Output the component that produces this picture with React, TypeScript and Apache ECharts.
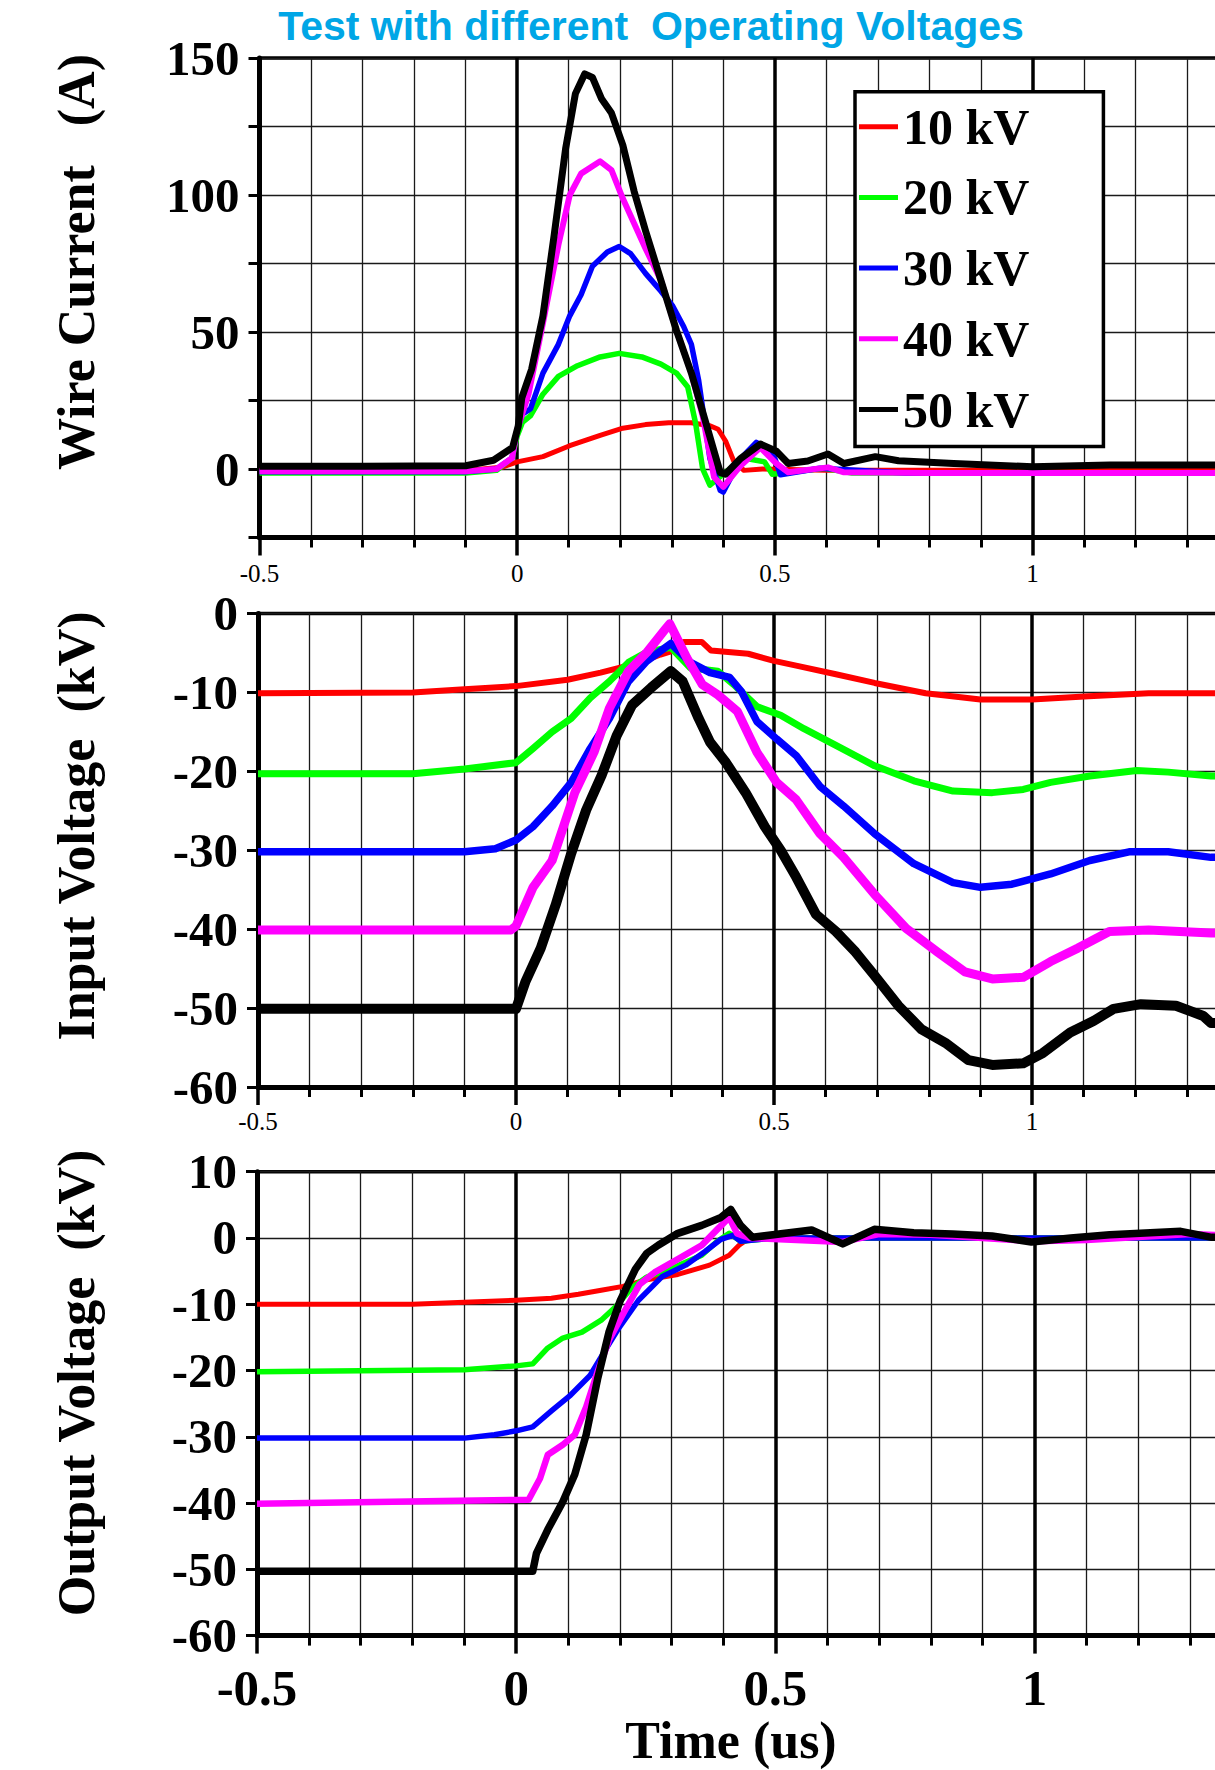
import React, { useEffect, useRef } from "react";
import * as echarts from "echarts";

// ---------- DATA (time in us) ----------
const SERIES_NAMES = ["10 kV", "20 kV", "30 kV", "40 kV", "50 kV"];
const SERIES_COLORS = ["#ff0000", "#00ff00", "#0000ff", "#ff00ff", "#000000"];
const X_TICK_LABELS = ["-0.5", "0", "0.5", "1"];

// Wire Current (A)
const current10kV = [
  [-0.5, -0.5], [-0.1, -0.5], [-0.03, 0.6], [0, 2.6], [0.05, 4.5], [0.102, 8.5], [0.161, 12.3],
  [0.205, 14.9], [0.249, 16.2], [0.294, 16.9], [0.338, 16.9], [0.374, 15.8], [0.39, 14.5],
  [0.405, 10], [0.42, 3], [0.44, -0.5], [0.476, 0], [0.6, -0.5], [1.5, -0.5],
];
const current20kV = [
  [-0.5, -1.5], [-0.1, -1.5], [-0.04, -0.5], [-0.01, 4], [0, 12], [0.01, 17], [0.026, 19.5],
  [0.05, 27.3], [0.08, 33.8], [0.117, 37.7], [0.161, 40.9], [0.198, 42.2], [0.242, 40.9],
  [0.279, 38.3], [0.309, 35], [0.331, 29.9], [0.346, 16.9], [0.36, 0], [0.374, -5.9],
  [0.412, 0], [0.442, 3.9], [0.48, 2.6], [0.495, -1.9], [0.595, 0.3], [0.65, -1.5], [1.5, -1.5],
];
const current30kV = [
  [-0.5, -1], [-0.1, -1], [-0.04, 0], [-0.01, 4], [0, 14.3], [0.01, 20], [0.026, 22],
  [0.05, 35], [0.08, 45.5], [0.102, 55.9], [0.124, 63.6], [0.146, 74], [0.175, 79.2],
  [0.198, 81.2], [0.22, 78.6], [0.249, 71.4], [0.279, 64.9], [0.301, 59.7], [0.323, 52],
  [0.338, 45.5], [0.352, 32.5], [0.374, 3.9], [0.394, -7.8], [0.4, -8.4], [0.434, 3.9],
  [0.464, 9.7], [0.495, 6.5], [0.511, -2.1], [0.587, 0.3], [0.755, -1.5], [1.5, -1.5],
];
const current40kV = [
  [-0.5, -0.8], [-0.1, -0.8], [-0.04, 0], [-0.01, 4], [0, 14.3], [0.022, 27.3], [0.05, 53.2],
  [0.08, 81.8], [0.102, 100], [0.124, 107.8], [0.161, 112.3], [0.183, 109.1], [0.205, 98.7],
  [0.227, 89.6], [0.249, 80.5], [0.279, 68.8], [0.309, 50.6], [0.338, 35], [0.36, 19.3],
  [0.382, -3], [0.4, -6.5], [0.434, 1.3], [0.472, 7.8], [0.503, 2], [0.526, -1.2],
  [0.603, 0.6], [0.634, -1.2], [0.8, -1.5], [1.5, -1.5],
];
const current50kV = [
  [-0.5, 1], [-0.3, 1], [-0.1, 1.2], [-0.046, 3.2], [-0.009, 7.8], [0.002, 15.6], [0.009, 26],
  [0.028, 36.4], [0.05, 55.9], [0.072, 85.7], [0.094, 116.9], [0.113, 137], [0.131, 144.2],
  [0.146, 142.9], [0.164, 135], [0.183, 129.9], [0.205, 118.2], [0.227, 101.3], [0.249, 87],
  [0.279, 68.8], [0.309, 50.6], [0.338, 35], [0.368, 15.6], [0.394, -1.3], [0.404, -1.9],
  [0.434, 3.9], [0.472, 9.1], [0.503, 6.5], [0.526, 2], [0.564, 2.9], [0.603, 5.5],
  [0.634, 2], [0.695, 4.5], [0.74, 3], [0.847, 2], [1.0, 0.8], [1.15, 1.5], [1.35, 1.5], [1.5, 1.5],
];

// Input Voltage (kV)
const input10kV = [
  [-0.5, -10.1], [-0.2, -10], [-0.1, -9.6], [0, -9.2], [0.1, -8.4], [0.164, -7.5], [0.2, -6.9],
  [0.24, -6.2], [0.28, -5.2], [0.3, -4.8], [0.325, -3.6], [0.36, -3.6], [0.378, -4.7],
  [0.45, -5.1], [0.5, -6.0], [0.543, -6.6], [0.62, -7.7], [0.695, -8.8], [0.794, -10.1],
  [0.9, -10.9], [1.0, -10.9], [1.11, -10.5], [1.226, -10.1], [1.347, -10.1], [1.5, -10.1],
];
const input20kV = [
  [-0.5, -20.3], [-0.2, -20.3], [-0.1, -19.7], [0, -18.9], [0.033, -17.1], [0.07, -15],
  [0.107, -13.3], [0.144, -10.7], [0.181, -8.6], [0.218, -6.2], [0.254, -4.9], [0.3, -4.3],
  [0.338, -6.9], [0.391, -7.3], [0.422, -9], [0.467, -11.8], [0.513, -12.9], [0.558, -14.6],
  [0.62, -16.7], [0.695, -19.3], [0.771, -21.2], [0.847, -22.5], [0.923, -22.7], [0.983, -22.3],
  [1.036, -21.4], [1.112, -20.6], [1.203, -19.9], [1.264, -20.1], [1.347, -20.6], [1.5, -20.6],
];
const input30kV = [
  [-0.5, -30.2], [-0.1, -30.2], [-0.04, -29.8], [0, -28.7], [0.033, -27], [0.07, -24.4],
  [0.107, -21.4], [0.144, -17.1], [0.181, -13.3], [0.218, -8.6], [0.254, -6], [0.3, -3.8],
  [0.338, -6.2], [0.376, -7.5], [0.414, -8.1], [0.437, -9.9], [0.467, -13.7], [0.505, -15.9],
  [0.543, -18], [0.589, -21.9], [0.635, -24.4], [0.695, -27.9], [0.771, -31.7], [0.847, -34.1],
  [0.9, -34.7], [0.961, -34.3], [1.036, -33], [1.112, -31.3], [1.188, -30.2], [1.264, -30.2],
  [1.347, -30.9], [1.5, -30.9],
];
const input40kV = [
  [-0.5, -40.1], [-0.01, -40.1], [0, -39.6], [0.033, -34.7], [0.07, -31.3], [0.092, -27],
  [0.114, -22.7], [0.151, -17.6], [0.181, -12], [0.218, -7.3], [0.254, -4.9], [0.288, -2.1],
  [0.298, -1.3], [0.331, -5.6], [0.361, -9], [0.391, -10.3], [0.429, -12.4], [0.467, -17.6],
  [0.505, -21.4], [0.543, -23.6], [0.589, -27.9], [0.635, -30.9], [0.695, -35.6], [0.756, -39.9],
  [0.817, -42.9], [0.87, -45.4], [0.923, -46.3], [0.983, -46.1], [1.036, -44.1], [1.089, -42.4],
  [1.15, -40.3], [1.226, -40.1], [1.347, -40.5], [1.5, -40.5],
];
const input50kV = [
  [-0.5, -50.1], [0, -50.1], [0.018, -46.7], [0.048, -42.4], [0.077, -36.9], [0.107, -30.4],
  [0.136, -24.9], [0.166, -20.5], [0.195, -15.5], [0.225, -11.6], [0.262, -9.4], [0.3, -7.3],
  [0.323, -8.6], [0.354, -13.3], [0.376, -16.3], [0.407, -18.9], [0.445, -22.7], [0.482, -27],
  [0.513, -30], [0.543, -33.4], [0.581, -38.1], [0.62, -40.3], [0.658, -42.9], [0.695, -45.9],
  [0.741, -49.7], [0.786, -52.7], [0.832, -54.4], [0.877, -56.6], [0.923, -57.2], [0.983, -57],
  [1.021, -55.7], [1.074, -53.1], [1.12, -51.6], [1.158, -50.1], [1.211, -49.5], [1.279, -49.7],
  [1.332, -51], [1.347, -51.9], [1.5, -51.9],
];

// Output Voltage (kV)
const output10kV = [
  [-0.5, -10], [-0.2, -10], [-0.1, -9.7], [0, -9.4], [0.068, -9.1], [0.12, -8.5], [0.164, -7.9],
  [0.206, -7.3], [0.252, -6.3], [0.312, -5.5], [0.373, -4.1], [0.411, -2.6], [0.43, -1.1],
  [0.441, -0.5], [0.46, 0], [1.5, 0],
];
const output20kV = [
  [-0.5, -20.2], [-0.1, -19.9], [0, -19.3], [0.032, -19], [0.061, -16.6], [0.09, -15.1],
  [0.127, -14.2], [0.164, -12.4], [0.193, -10.3], [0.223, -7.5], [0.252, -5.9], [0.297, -4.7],
  [0.358, -2.6], [0.388, -0.5], [0.411, 0.7], [0.433, -0.5], [0.5, 0], [1.5, 0],
];
const output30kV = [
  [-0.5, -30.2], [-0.1, -30.2], [-0.042, -29.7], [0, -29.1], [0.032, -28.5], [0.068, -26.1],
  [0.105, -23.7], [0.142, -20.8], [0.179, -16], [0.198, -13.6], [0.236, -9.4], [0.282, -5.8],
  [0.327, -4.1], [0.365, -2], [0.395, -0.2], [0.418, 0.4], [0.433, -0.5], [0.5, 0], [1.5, 0],
];
const output40kV = [
  [-0.5, -40.1], [0.024, -39.5], [0.046, -36.3], [0.061, -32.7], [0.09, -31.2], [0.113, -29.7],
  [0.135, -25.5], [0.157, -20.2], [0.179, -15.4], [0.208, -11.2], [0.238, -7], [0.267, -5.2],
  [0.312, -3.2], [0.358, -1.1], [0.388, 1.3], [0.411, 3.1], [0.426, 0.7], [0.45, 0], [0.63, -0.6],
  [0.7, 0.6], [0.8, 0.5], [1.0, -0.5], [1.1, -0.3], [1.3, 0.6], [1.5, 0],
];
const output50kV = [
  [-0.5, -50.3], [0.032, -50.3], [0.039, -47.6], [0.061, -44], [0.09, -39.8], [0.113, -35.7],
  [0.135, -29.7], [0.157, -21.3], [0.179, -14.2], [0.201, -9.4], [0.23, -4.7], [0.252, -2.3],
  [0.274, -1.1], [0.312, 0.7], [0.358, 1.9], [0.395, 3.1], [0.414, 4.3], [0.433, 1.9],
  [0.456, 0.1], [0.57, 1.2], [0.63, -0.9], [0.691, 1.3], [0.767, 0.8], [0.842, 0.6], [0.918, 0.3],
  [0.994, -0.6], [1.07, 0], [1.145, 0.5], [1.282, 1], [1.342, 0.1], [1.5, 0.1],
];

const TITLE = "Test with different\u00A0 Operating Voltages";
const Y_NAMES = ["Wire Current\u00A0\u00A0 (A)", "Input Voltage\u00A0 (kV)", "Output Voltage\u00A0 (kV)"];
const X_NAME = "Time (us)";

// ---------- LAYOUT ----------
const SERIF = '"Liberation Serif", "Times New Roman", serif';
const SANS = '"Liberation Sans", Arial, sans-serif';

const PANELS = [
  {
    grid: { left: 259.5, top: 58, width: 1030.7, height: 479.5 },
    y: { min: -25, max: 150, interval: 25, labelStep: 50 },
    data: [current10kV, current20kV, current30kV, current40kV, current50kV],
    widths: [5, 5.5, 5.5, 6, 7],
    xLabel: { fontSize: 25, fontWeight: "normal", margin: 23 },
    nameY: 262,
  },
  {
    grid: { left: 258, top: 613.5, width: 1032, height: 473.5 },
    y: { min: -60, max: 0, interval: 10, labelStep: 10 },
    data: [input10kV, input20kV, input30kV, input40kV, input50kV],
    widths: [6, 7, 7.5, 9, 10],
    xLabel: { fontSize: 25, fontWeight: "normal", margin: 22 },
    nameY: 826,
  },
  {
    grid: { left: 257, top: 1171.7, width: 1036.7, height: 463.9 },
    y: { min: -60, max: 10, interval: 10, labelStep: 10 },
    data: [output10kV, output20kV, output30kV, output40kV, output50kV],
    widths: [5, 5.5, 5.5, 6.5, 7.5],
    xLabel: { fontSize: 51, fontWeight: "bold", margin: 27 },
    nameY: 1383,
  },
];

function xLabelFormatter(v: number) {
  const r = Math.round(v * 10) / 10;
  const s = String(r);
  return X_TICK_LABELS.includes(s) ? s : "";
}

function buildOption() {
  const grids: any[] = [];
  const xAxes: any[] = [];
  const yAxes: any[] = [];
  const series: any[] = [];

  PANELS.forEach((p, i) => {
    grids.push({
      ...p.grid,
      show: true,
      borderColor: "#000",
      borderWidth: 3.5,
      backgroundColor: "transparent",
      containLabel: false,
    });
    xAxes.push({
      gridIndex: i,
      type: "value",
      min: -0.5,
      max: 1.5,
      interval: 0.5,
      position: "bottom",
      axisLine: { show: true, onZero: false, lineStyle: { color: "#000", width: 5 } },
      axisTick: { show: true, inside: false, length: 18, lineStyle: { color: "#000", width: 3.5 } },
      minorTick: { show: true, splitNumber: 5, length: 10, lineStyle: { color: "#000", width: 3 } },
      splitLine: { show: true, lineStyle: { color: "#000", width: 3.5 } },
      minorSplitLine: { show: true, lineStyle: { color: "#1a1a1a", width: 1.3 } },
      axisLabel: {
        show: true,
        formatter: xLabelFormatter,
        fontFamily: SERIF,
        fontSize: p.xLabel.fontSize,
        fontWeight: p.xLabel.fontWeight,
        color: "#000",
        margin: p.xLabel.margin,
      },
    });
    yAxes.push({
      gridIndex: i,
      type: "value",
      min: p.y.min,
      max: p.y.max,
      interval: p.y.interval,
      axisLine: { show: true, onZero: false, lineStyle: { color: "#000", width: 5 } },
      axisTick: { show: true, inside: false, length: 11, lineStyle: { color: "#000", width: 3 } },
      splitLine: { show: true, lineStyle: { color: "#1a1a1a", width: 1.3 } },
      axisLabel: {
        show: true,
        formatter: (v: number) => {
          const r = Math.round(v);
          return r % p.y.labelStep === 0 && (p.y.labelStep === 10 || r >= 0) ? String(r) : "";
        },
        fontFamily: SERIF,
        fontSize: 49,
        fontWeight: "bold",
        color: "#000",
        margin: 20,
      },
    });
    p.data.forEach((d, k) => {
      series.push({
        name: SERIES_NAMES[k],
        type: "line",
        xAxisIndex: i,
        yAxisIndex: i,
        data: d,
        showSymbol: false,
        symbol: "none",
        color: SERIES_COLORS[k],
        itemStyle: { color: SERIES_COLORS[k] },
        lineStyle: { color: SERIES_COLORS[k], width: p.widths[k], join: "round" },
        silent: true,
        z: 3,
      });
    });
  });

  const graphics: any[] = [
    {
      type: "text",
      x: 651,
      y: 26,
      style: {
        text: TITLE,
        fill: "#00a6e6",
        fontFamily: SANS,
        fontWeight: "bold",
        fontSize: 41,
        align: "center",
        verticalAlign: "middle",
      },
    },
    {
      type: "text",
      x: 731,
      y: 1740,
      style: {
        text: X_NAME,
        fill: "#000",
        fontFamily: SERIF,
        fontWeight: "bold",
        fontSize: 52,
        align: "center",
        verticalAlign: "middle",
      },
    },
  ];
  PANELS.forEach((p, i) => {
    graphics.push({
      type: "text",
      x: 76,
      y: p.nameY,
      rotation: Math.PI / 2,
      style: {
        text: Y_NAMES[i],
        fill: "#000",
        fontFamily: SERIF,
        fontWeight: "bold",
        fontSize: 52,
        align: "center",
        verticalAlign: "middle",
      },
    });
  });

  return {
    animation: false,
    backgroundColor: "#fff",
    grid: grids,
    xAxis: xAxes,
    yAxis: yAxes,
    series,
    legend: {
      data: SERIES_NAMES,
      orient: "vertical",
      left: 855,
      top: 91.7,
      icon: "rect",
      itemWidth: 39,
      itemHeight: 5,
      itemGap: 14.7,
      padding: [7, 74, 9, 4],
      backgroundColor: "#fff",
      borderColor: "#000",
      borderWidth: 3.5,
      selectedMode: false,
      textStyle: {
        fontFamily: SERIF,
        fontWeight: "bold",
        fontSize: 50,
        lineHeight: 56,
        color: "#000",
      },
    },
    graphic: graphics,
  };
}

export default function App() {
  const ref = useRef<HTMLDivElement>(null);
  useEffect(() => {
    if (!ref.current) return;
    const chart = echarts.init(ref.current, undefined, { renderer: "svg" });
    chart.setOption(buildOption() as any);
    return () => chart.dispose();
  }, []);
  return (
    <div
      style={{
        position: "absolute",
        left: 0,
        top: 0,
        width: 1215,
        height: 1770,
        overflow: "hidden",
        background: "#fff",
      }}
    >
      <div ref={ref} style={{ width: 1400, height: 1770 }} />
    </div>
  );
}
